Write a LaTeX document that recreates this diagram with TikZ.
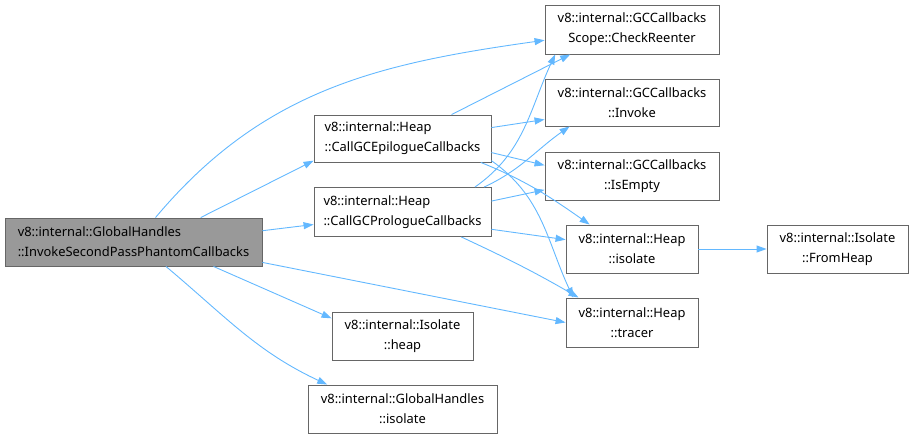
\documentclass[tikz,border=0pt]{standalone}
\usepackage{fontspec}
\setmainfont{Noto Sans}
\usetikzlibrary{arrows.meta}
\definecolor{edgeblue}{HTML}{63B8FF}
\definecolor{boxline}{HTML}{666666}
\definecolor{mainfill}{HTML}{999999}
\begin{document}
\begin{tikzpicture}[x=1pt,y=-1pt,
  box/.style={draw=boxline,line width=0.9pt,fill=white,align=center,inner sep=0pt,
    font=\fontsize{12.9}{20}\selectfont},
  lbox/.style={box,align=left},
  link/.style={draw=edgeblue,line width=0.9pt,-{Triangle[length=10pt,width=7pt]}}]
\useasboundingbox (0,0) rectangle (915,438);
\node[lbox,fill=mainfill,minimum width=257pt,minimum height=48pt] (main) at (133.5,242) {v8::internal::GlobalHandles\\::InvokeSecondPassPhantomCallbacks};
\node[lbox,minimum width=177pt,minimum height=47pt] (epi) at (402.5,138.5) {v8::internal::Heap\\::CallGCEpilogueCallbacks};
\node[lbox,minimum width=177pt,minimum height=49pt] (pro) at (402.5,212) {v8::internal::Heap\\::CallGCPrologueCallbacks};
\node[box,minimum width=174pt,minimum height=49pt] (cr) at (632,29.5) {v8::internal::GCCallbacks\\Scope::CheckReenter};
\node[box,minimum width=174pt,minimum height=47pt] (inv) at (632,102.5) {v8::internal::GCCallbacks\\::Invoke};
\node[box,minimum width=174pt,minimum height=48pt] (ise) at (632,176) {v8::internal::GCCallbacks\\::IsEmpty};
\node[box,minimum width=132pt,minimum height=48pt] (hiso) at (632,249) {v8::internal::Heap\\::isolate};
\node[box,minimum width=132pt,minimum height=49pt] (htr) at (632,322.5) {v8::internal::Heap\\::tracer};
\node[box,minimum width=141pt,minimum height=48pt] (fh) at (837.5,249) {v8::internal::Isolate\\::FromHeap};
\node[box,minimum width=141pt,minimum height=48pt] (ihp) at (402.5,336) {v8::internal::Isolate\\::heap};
\node[box,minimum width=189pt,minimum height=48pt] (ghi) at (402.5,409) {v8::internal::GlobalHandles\\::isolate};
% main edges
\draw[link] (main.48) to[out=50,in=188] (cr.187);
\draw[link] (main.20) -- (epi.194);
\draw[link] (main.5) -- (pro.188);
\draw[link] (main.-9) -- (htr.180);
\draw[link] (main.-17) -- (ihp.166);
\draw[link] (main.-37) to[out=-40,in=155] (ghi.162);
% epilogue edges
\draw[link] (epi.26) -- (cr.202);
\draw[link] (epi.7) -- (inv.191);
\draw[link] (epi.-9) -- (ise.173);
\draw[link] (epi.-17) to[out=-22,in=145] (hiso.150);
\draw[link] (epi.-14) to[out=-35,in=115] (htr.157);
% prologue edges
\draw[link] (pro.19) to[out=35,in=-115] (cr.198);
\draw[link] (pro.17) to[out=25,in=215] (inv.201);
\draw[link] (pro.7) -- (ise.189);
\draw[link] (pro.-11) -- (hiso.172);
\draw[link] (pro.-23) to[out=-25,in=150] (htr.155);
% heap isolate
\draw[link] (hiso) -- (fh);
\end{tikzpicture}
\end{document}
